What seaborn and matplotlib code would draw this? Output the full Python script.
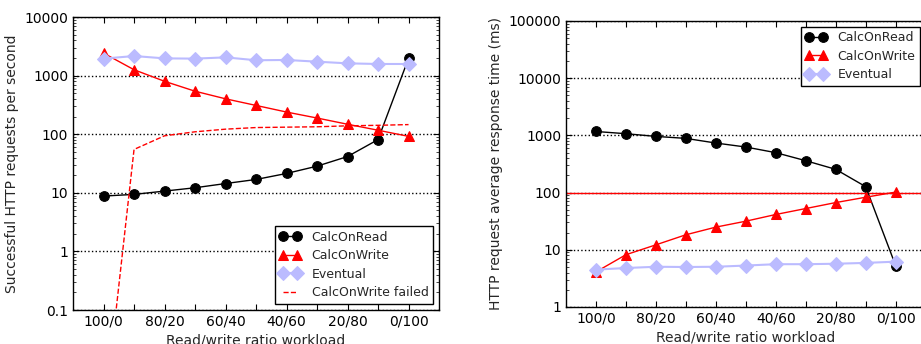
import numpy as np
import pandas as pd
import seaborn as sns
import matplotlib.pyplot as plt
from matplotlib.ticker import FuncFormatter, FixedLocator, LogLocator, NullFormatter

# Read/write ratio categories (x axis)
ratios = ['100/0', '90/10', '80/20', '70/30', '60/40', '50/50',
          '40/60', '30/70', '20/80', '10/90', '0/100']

# Left panel: successful HTTP requests per second
thr_read = [8.8, 9.4, 10.7, 12.2, 14.4, 16.9, 21.4, 28.5, 41.6, 81, 1970]
thr_write = [2420, 1260, 800, 542, 402, 310, 239, 189, 148, 117, 92]
thr_eventual = [1950, 2160, 1970, 1950, 2050, 1830, 1850, 1730, 1620, 1580, 1580]
thr_write_failed = [0.0012, 55, 94, 110, 122, 130, 132, 134, 139, 142, 146]

# Right panel: average response time (ms)
rt_read = [1170, 1070, 960, 886, 735, 626, 499, 361, 255, 127, 5.3]
rt_write = [4.1, 8.2, 12.2, 18.3, 24.9, 31.6, 41.4, 52.6, 66.9, 82.9, 102]
rt_eventual = [4.5, 4.8, 5.05, 5.0, 5.05, 5.3, 5.6, 5.6, 5.7, 5.9, 6.2]

sns.set_style('ticks')
plt.rcParams['font.family'] = ['DejaVu Sans']
plt.rcParams['font.size'] = 10
plt.rcParams['xtick.direction'] = 'in'
plt.rcParams['ytick.direction'] = 'in'
plt.rcParams['xtick.top'] = True
plt.rcParams['ytick.right'] = True
plt.rcParams['legend.numpoints'] = 2

pos = np.arange(len(ratios))
lavender = '#bbbbff'

fig = plt.figure(figsize=(9.21, 3.44), dpi=100)
ax1 = fig.add_axes([0.0793, 0.0988, 0.3974, 0.8517])
ax2 = fig.add_axes([0.6145, 0.1076, 0.3905, 0.8314])


def style_axis(ax, ylo, yhi):
    ax.set_yscale('log')
    ax.set_ylim(ylo, yhi)
    ax.set_xlim(-1, 11)
    ax.xaxis.set_major_locator(FixedLocator(pos))
    ax.set_xticklabels([r if i % 2 == 0 else '' for i, r in enumerate(ratios)])
    ax.yaxis.set_major_formatter(FuncFormatter(lambda v, p: '%g' % v))
    ax.yaxis.set_minor_locator(LogLocator(base=10, subs=np.arange(2, 10), numticks=20))
    ax.yaxis.set_minor_formatter(NullFormatter())
    ax.tick_params(which='major', length=4, width=0.8, colors='black', labelsize=10)
    ax.tick_params(which='minor', length=2, width=0.6)
    ax.grid(axis='y', which='major', color='black', linestyle=':', linewidth=1)
    ax.set_axisbelow(True)
    for s in ax.spines.values():
        s.set_color('black')
        s.set_linewidth(1)
    ax.set_xlabel('Read/write ratio workload', fontsize=10, labelpad=3)


def draw(ax, y, color, marker, label, ms, lw=1.0):
    sns.lineplot(x=pos, y=y, ax=ax, color=color, marker=marker, markersize=ms,
                 markeredgecolor=color, linestyle='-', linewidth=lw, label=label,
                 sort=False, estimator=None)


def add_legend(ax, loc, pad):
    handles = [l for l in ax.lines if not l.get_label().startswith('_')]
    leg = ax.legend(handles=handles, labels=[h.get_label() for h in handles],
                    loc=loc, numpoints=2, fancybox=False, frameon=True,
                    edgecolor='black', framealpha=1, fontsize=9,
                    handlelength=1.7, borderpad=0.35, labelspacing=0.45,
                    borderaxespad=pad, handletextpad=0.9)
    leg.get_frame().set_linewidth(1)


# left panel
draw(ax1, thr_read, 'black', 'o', 'CalcOnRead', 7)
draw(ax1, thr_write, 'red', '^', 'CalcOnWrite', 7)
draw(ax1, thr_eventual, lavender, 'D', 'Eventual', 7, lw=1.5)
sns.lineplot(x=pos, y=thr_write_failed, ax=ax1, color='red', linestyle='--',
             dashes=(5, 4), linewidth=1, label='CalcOnWrite failed',
             sort=False, estimator=None)
style_axis(ax1, 0.1, 10000)
ax1.set_ylabel('Successful HTTP requests per second', fontsize=10)
add_legend(ax1, 'lower right', 0.5)

# right panel
ax2.axhline(100, color='red', linewidth=1, zorder=1.5)
draw(ax2, rt_read, 'black', 'o', 'CalcOnRead', 7)
draw(ax2, rt_write, 'red', '^', 'CalcOnWrite', 7)
draw(ax2, rt_eventual, lavender, 'D', 'Eventual', 7, lw=1.5)
style_axis(ax2, 1, 100000)
ax2.set_ylabel('HTTP request average response time (ms)', fontsize=10)
add_legend(ax2, 'upper right', 0.45)

fig.savefig('out.png', dpi=100)
